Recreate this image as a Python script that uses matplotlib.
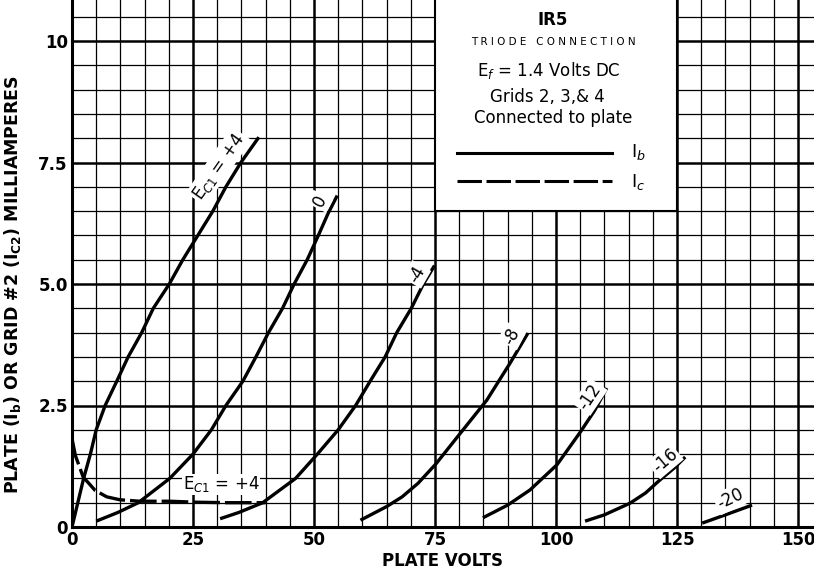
import matplotlib
matplotlib.use("Agg")
import matplotlib.pyplot as plt
from matplotlib.patches import Rectangle

plt.rcParams['mathtext.fontset'] = 'dejavusans'
BOLD = ['DejaVu Sans']
TYPE = ['DejaVu Sans']

# Plate current Ib (mA) vs plate volts, one curve per grid #1 voltage
ib_p4_v = [0, 2.4, 3.8, 5.0, 6.85, 9.25, 11.6, 14.4, 16.8, 20.1, 22.9, 26, 29.1, 31.8, 34.9, 38.6]
ib_p4_i = [0, 1.0, 1.5, 2.0, 2.5, 3.0, 3.5, 4.0, 4.5, 5.0, 5.5, 6.0, 6.5, 7.0, 7.5, 8.02]
ib_0_v = [5.0, 9.5, 13.7, 20.2, 25, 28.8, 31.8, 35.3, 38, 40.6, 43.5, 45.9, 48.6, 50.9, 52.9, 54.8]
ib_0_i = [0.12, 0.3, 0.5, 1.0, 1.5, 2.0, 2.5, 3.0, 3.5, 4.0, 4.5, 5.0, 5.5, 6.0, 6.45, 6.82]
ib_m4_v = [30.6, 34.5, 39.4, 46.2, 50.7, 55, 58.6, 61.6, 64.7, 67.1, 70.1, 72.6, 74.9]
ib_m4_i = [0.17, 0.3, 0.5, 1.0, 1.5, 2.0, 2.5, 3.0, 3.5, 4.0, 4.5, 5.0, 5.38]
ib_m8_v = [59.6, 65, 68.2, 71.5, 75.2, 80.8, 85.7, 90.5, 94.2]
ib_m8_i = [0.14, 0.42, 0.62, 0.9, 1.3, 2.0, 2.61, 3.37, 3.99]
ib_m12_v = [84.9, 90, 94.6, 100.2, 105, 108, 110.5]
ib_m12_i = [0.19, 0.45, 0.76, 1.28, 1.95, 2.4, 2.86]
ib_m16_v = [106, 110, 115.3, 118.5, 121.5, 124.5, 126.7]
ib_m16_i = [0.12, 0.25, 0.49, 0.7, 0.97, 1.22, 1.44]
ib_m20_v = [130.2, 135, 140.5]
ib_m20_i = [0.08, 0.25, 0.45]

# Grid #2 current Ic for Ec1 = +4
ic_p4_v = [0, 0.7, 2.3, 4.8, 7.2, 9.9, 14, 20.2, 25.7, 32, 40]
ic_p4_i = [1.82, 1.47, 1.03, 0.75, 0.62, 0.56, 0.53, 0.53, 0.51, 0.5, 0.5]

curves = [(ib_p4_v, ib_p4_i), (ib_0_v, ib_0_i), (ib_m4_v, ib_m4_i),
          (ib_m8_v, ib_m8_i), (ib_m12_v, ib_m12_i), (ib_m16_v, ib_m16_i),
          (ib_m20_v, ib_m20_i)]

# curve labels: text, volts, mA, angle
labels = [(r'E$_{C1}$ = +4', 30.3, 7.42, 55),
          ('0', 51.2, 6.7, 62),
          ('-4', 71.2, 5.2, 60),
          ('-8', 90.9, 3.93, 62),
          ('-12', 107, 2.68, 56),
          ('-16', 122.5, 1.36, 40),
          ('-20', 136, 0.58, 25)]

x_ticks = [0, 25, 50, 75, 100, 125, 150]
y_ticks = [0, 2.5, 5.0, 7.5, 10]
y_tick_labels = ['0', '2.5', '5.0', '7.5', '10']

fig = plt.figure(figsize=(8.14, 5.69), dpi=100)
ax = fig.add_axes([72 / 814, 42 / 569, 742 / 814, 527 / 569])
ax.set_xlim(0, 742 / 4.84)
ax.set_ylim(0, 527 / 48.6)

# graph paper
for v in range(5, 155, 5):
    ax.axvline(v, color='black', lw=1.8 if v % 25 == 0 else 0.9, zorder=0.5)
for k in range(1, 22):
    y = k * 0.5
    ax.axhline(y, color='black', lw=1.8 if k % 5 == 0 else 0.9, zorder=0.5)

# title block
ax.add_patch(Rectangle((75, 6.5), 50, 5, facecolor='white', edgecolor='black',
                       lw=1.5, zorder=1))
ax.text(99.4, 10.43, 'IR5', ha='center', va='center', fontsize=12,
        fontweight='bold', family=BOLD, zorder=4)
ax.text(99.4, 9.98, 'T R I O D E   C O N N E C T I O N', ha='center', va='center',
        fontsize=7.5, family=TYPE, zorder=4)
ax.text(98.5, 9.40, r'E$_f$ = 1.4 Volts DC', ha='center', va='center',
        fontsize=12, family=TYPE, zorder=4)
ax.text(98.3, 8.85, 'Grids 2, 3,& 4', ha='center', va='center',
        fontsize=12, family=TYPE, zorder=4)
ax.text(99.4, 8.42, 'Connected to plate', ha='center', va='center',
        fontsize=12, family=TYPE, zorder=4)
ax.plot([79.5, 111.6], [7.70, 7.70], color='black', lw=2.2, zorder=4)
ax.plot([79.5, 111.6], [7.12, 7.12], color='black', lw=2.2,
        linestyle=(0, (8, 1.5)), zorder=4)
ax.text(115.5, 7.72, r'I$_b$', ha='left', va='center', fontsize=13,
        family=TYPE, zorder=4)
ax.text(115.5, 7.10, r'I$_c$', ha='left', va='center', fontsize=13,
        family=TYPE, zorder=4)

# characteristic curves
for v, i in curves:
    ax.plot(v, i, color='black', lw=2.4, solid_capstyle='butt',
            solid_joinstyle='round', zorder=3)
ax.plot(ic_p4_v, ic_p4_i, color='black', lw=2.4, linestyle=(0, (8, 1.5)),
        dash_joinstyle='round', zorder=2.5)

for txt, v, i, ang in labels:
    ax.text(v, i, txt, ha='center', va='center', rotation=ang, fontsize=12,
            family=TYPE, zorder=4,
            bbox=dict(facecolor='white', edgecolor='none', pad=1.5))
ax.text(30.8, 0.88, r'E$_{C1}$ = +4', ha='center', va='center', fontsize=12,
        family=TYPE, zorder=4,
        bbox=dict(facecolor='white', edgecolor='none', pad=0.5))

ax.spines['top'].set_visible(False)
ax.spines['right'].set_visible(False)
ax.spines['left'].set_linewidth(2.2)
ax.spines['bottom'].set_linewidth(2.2)
ax.set_xticks(x_ticks)
ax.set_xticklabels([str(t) for t in x_ticks], fontsize=12, fontweight='bold',
                   family=BOLD)
ax.set_yticks(y_ticks)
ax.set_yticklabels(y_tick_labels, fontsize=12, fontweight='bold', family=BOLD)
ax.tick_params(length=0, pad=3)
ax.set_xlabel('PLATE VOLTS', fontsize=12, fontweight='bold', family=BOLD,
              labelpad=2)
ax.set_ylabel(r'PLATE (I$_{\mathbf{b}}$) OR GRID #2 (I$_{\mathbf{C2}}$) MILLIAMPERES',
              fontsize=12.5, fontweight='bold', family=BOLD)
ax.yaxis.set_label_coords(-49 / 742, 0.46)

fig.savefig('out.png', dpi=100)
